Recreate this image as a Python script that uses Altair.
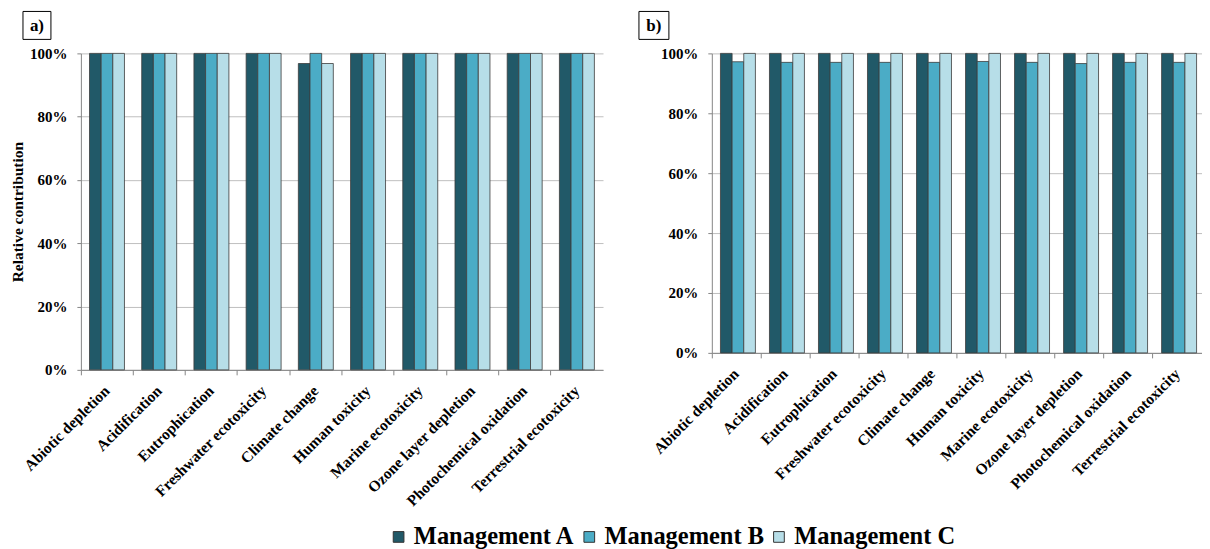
import altair as alt
import pandas as pd

categories = [
    "Abiotic depletion", "Acidification", "Eutrophication", "Freshwater ecotoxicity",
    "Climate change", "Human toxicity", "Marine ecotoxicity", "Ozone layer depletion",
    "Photochemical oxidation", "Terrestrial ecotoxicity",
]
managements = ["Management A", "Management B", "Management C"]
colors = ["#215968", "#4BACC6", "#B7DEE8"]

# panel a) relative contribution
a_mgmt_A = [1.0, 1.0, 1.0, 1.0, 0.968, 1.0, 1.0, 1.0, 1.0, 1.0]
a_mgmt_B = [1.0, 1.0, 1.0, 1.0, 1.0, 1.0, 1.0, 1.0, 1.0, 1.0]
a_mgmt_C = [1.0, 1.0, 1.0, 1.0, 0.968, 1.0, 1.0, 1.0, 1.0, 1.0]
# panel b)
b_mgmt_A = [1.0, 1.0, 1.0, 1.0, 1.0, 1.0, 1.0, 1.0, 1.0, 1.0]
b_mgmt_B = [0.972, 0.970, 0.970, 0.970, 0.970, 0.973, 0.970, 0.966, 0.970, 0.970]
b_mgmt_C = [1.0, 1.0, 1.0, 1.0, 1.0, 1.0, 1.0, 1.0, 1.0, 1.0]

y_ticks = [0, 0.2, 0.4, 0.6, 0.8, 1.0]
FONT = "Liberation Serif"


def make_df(series):
    rows = []
    for m, vals in zip(managements, series):
        for c, v in zip(categories, vals):
            rows.append({"category": c, "management": m, "value": v})
    return pd.DataFrame(rows)


def panel(series, label, w, h, box_x0, box_x1, show_title, legend):
    df = make_df(series)
    bars = alt.Chart(df).mark_bar(stroke="#3c3c3c", strokeWidth=0.8).encode(
        x=alt.X(
            "category:N", sort=categories,
            scale=alt.Scale(paddingInner=0, paddingOuter=0),
            axis=alt.Axis(
                title=None, bandPosition=0, labelAngle=-45,
                labelAlign="right", labelBaseline="middle", labelPadding=13,
                labelFontSize=15.5, labelLimit=300, labelOverlap=False, tickSize=5,
                grid=False,
            ),
        ),
        xOffset=alt.XOffset(
            "management:N", sort=managements,
            scale=alt.Scale(paddingInner=0, paddingOuter=0.74),
        ),
        y=alt.Y(
            "value:Q", scale=alt.Scale(domain=[0, 1]),
            axis=alt.Axis(
                values=y_ticks, format=".0%", labelFontSize=15, tickSize=4,
                labelPadding=10, grid=True,
                title="Relative contribution" if show_title else None,
                titleFontSize=15.5, titlePadding=4,
            ),
        ),
        color=alt.Color(
            "management:N", sort=managements,
            scale=alt.Scale(domain=managements, range=colors),
            legend=legend,
        ),
    )
    lab = pd.DataFrame({"label": [label]})
    box = alt.Chart(lab).mark_rect(fill="white", stroke="black", strokeWidth=1).encode(
        x=alt.value(box_x0), x2=alt.value(box_x1), y=alt.value(-42), y2=alt.value(-14)
    )
    txt = alt.Chart(lab).mark_text(
        font=FONT, fontWeight="bold", fontSize=17, color="black"
    ).encode(
        x=alt.value((box_x0 + box_x1) / 2), y=alt.value(-27), text="label:N"
    )
    return alt.layer(bars, box, txt).properties(width=w, height=h)


legend = alt.Legend(
    orient="none", legendX=306, legendY=472, direction="horizontal", title=None,
    labelFont=FONT, labelFontWeight="bold", labelFontSize=24.5, labelColor="black",
    symbolType="square", symbolSize=115, symbolStrokeColor="#333333",
    symbolStrokeWidth=1, symbolOpacity=1, columnPadding=2, labelOffset=3,
    labelLimit=300,
)

pa = panel([a_mgmt_A, a_mgmt_B, a_mgmt_C], "a)", 523, 317, -58, -30, True, legend)
pb = panel([b_mgmt_A, b_mgmt_B, b_mgmt_C], "b)", 491, 300, -73, -43, False, legend)

chart = alt.hconcat(pa, pb, spacing=35).properties(
    padding={"left": 2, "top": 2, "right": 0, "bottom": 0}
).configure_view(stroke=None).configure_axis(
    labelFont=FONT, labelFontWeight="bold", labelColor="black",
    titleFont=FONT, titleFontWeight="bold", titleColor="black",
    domainColor="#868686", tickColor="#868686", gridColor="#BFBFBF",
    domainWidth=1, tickWidth=1, gridWidth=1,
)

chart.save("out.html", embed_options={"renderer": "svg", "actions": False})
